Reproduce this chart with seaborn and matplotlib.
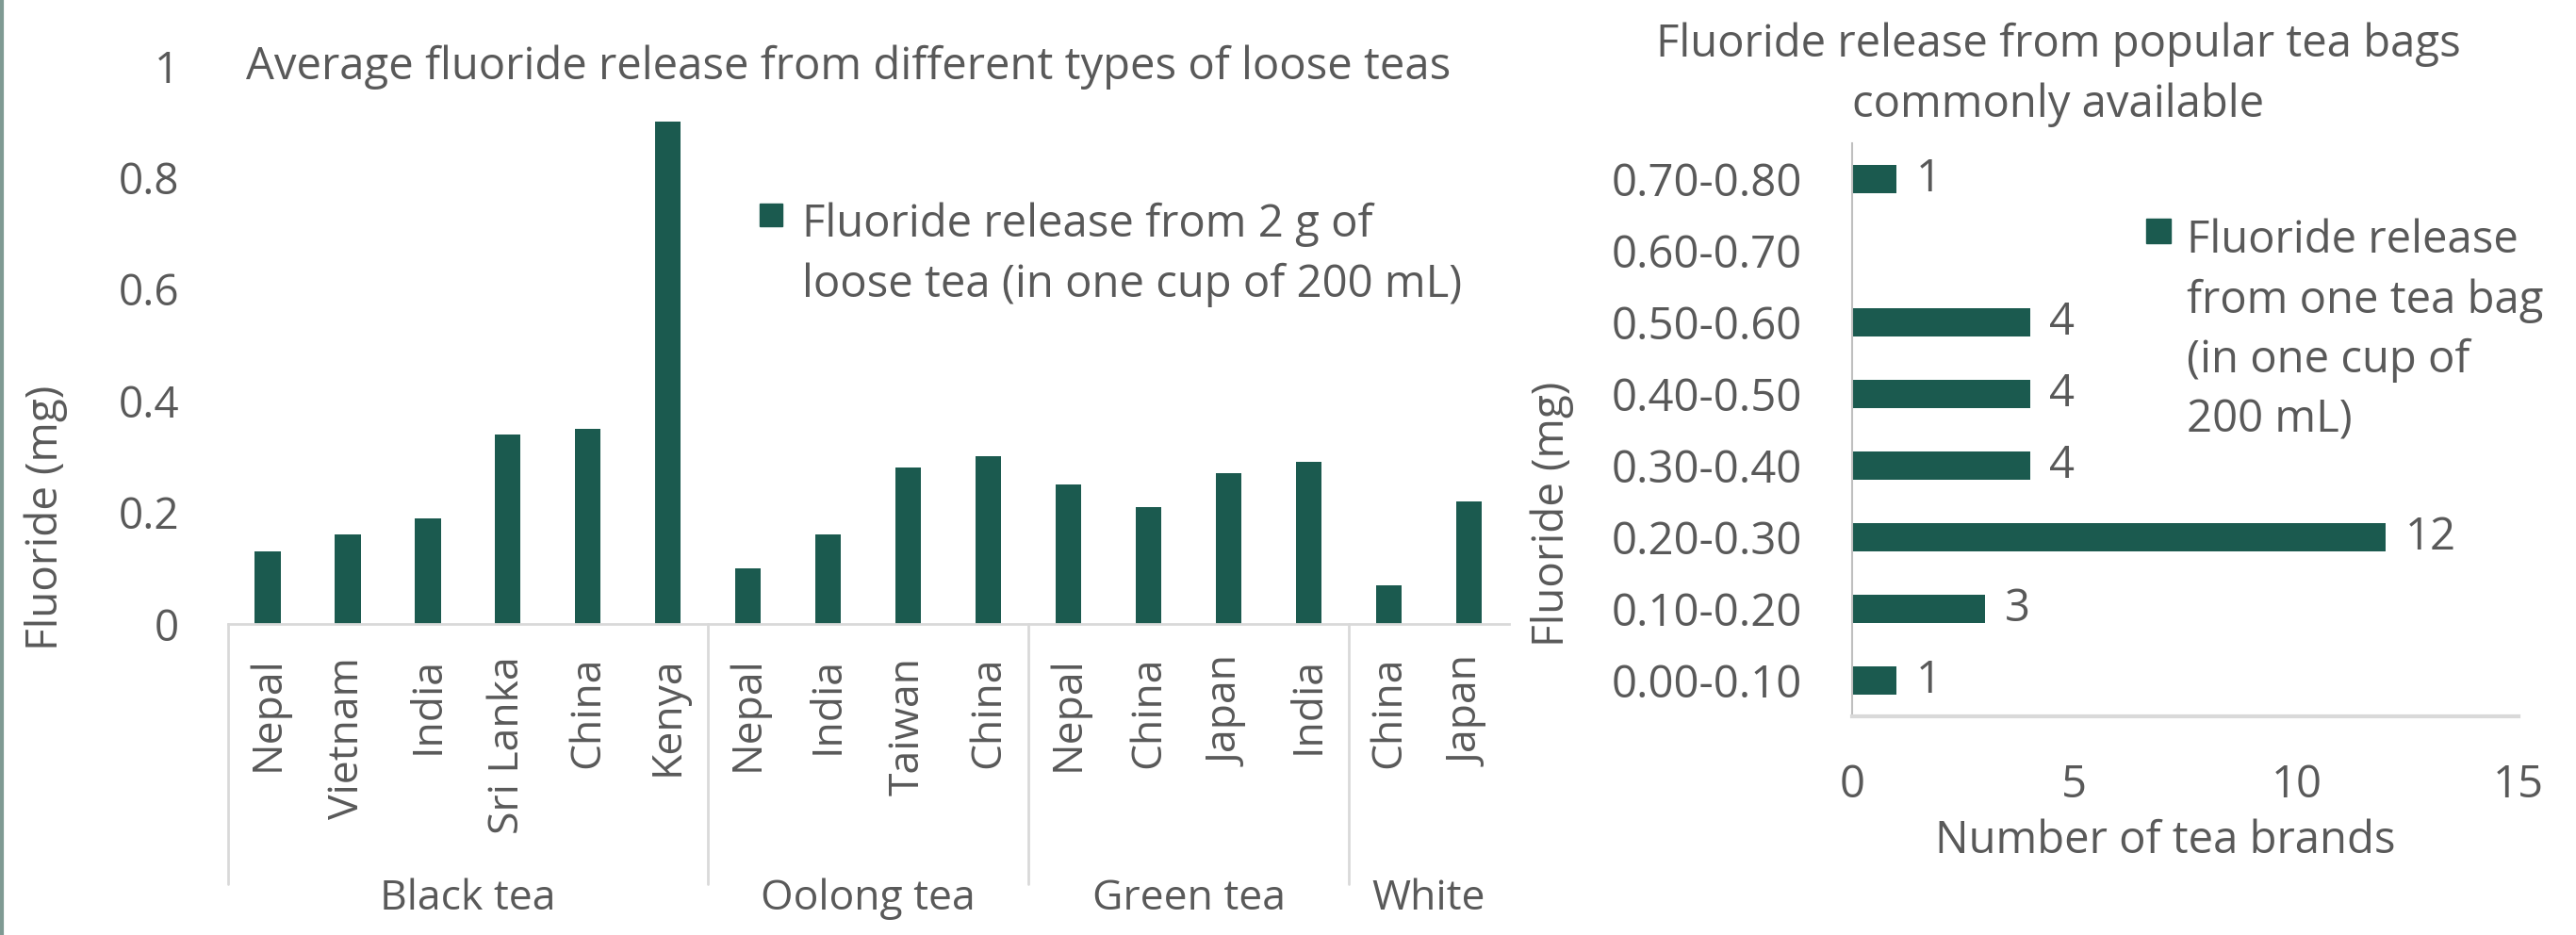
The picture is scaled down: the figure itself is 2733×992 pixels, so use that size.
import matplotlib
matplotlib.use("Agg")
import matplotlib.pyplot as plt
import matplotlib.transforms as mtransforms
from matplotlib.patches import Rectangle
from matplotlib.lines import Line2D
import pandas as pd
import seaborn as sns

# ---- Loose teas: average fluoride (mg) from 2 g brewed in 200 mL ----
tea_types = ["Black tea", "Oolong tea", "Green tea", "White"]
black_countries = ["Nepal", "Vietnam", "India", "Sri Lanka", "China", "Kenya"]
black_fluoride = [0.13, 0.16, 0.19, 0.34, 0.35, 0.90]
oolong_countries = ["Nepal", "India", "Taiwan", "China"]
oolong_fluoride = [0.10, 0.16, 0.28, 0.30]
green_countries = ["Nepal", "China", "Japan", "India"]
green_fluoride = [0.25, 0.21, 0.27, 0.29]
white_countries = ["China", "Japan"]
white_fluoride = [0.07, 0.22]

loose_yticks = [0, 0.2, 0.4, 0.6, 0.8, 1.0]
loose_ytick_labels = ["0", "0.2", "0.4", "0.6", "0.8", "1"]

# ---- Tea bags: number of brands in each fluoride range (mg) ----
bag_ranges = ["0.00-0.10", "0.10-0.20", "0.20-0.30", "0.30-0.40",
              "0.40-0.50", "0.50-0.60", "0.60-0.70", "0.70-0.80"]
bag_brands = [1, 3, 12, 4, 4, 4, 0, 1]
bag_xticks = [0, 5, 10, 15]

loose_title = "Average fluoride release from different types of loose teas"
loose_legend = "Fluoride release from 2 g of\nloose tea (in one cup of 200 mL)"
bag_title = "Fluoride release from popular tea bags\ncommonly available"
bag_legend = "Fluoride release\nfrom one tea bag\n(in one cup of\n200 mL)"
y_label = "Fluoride (mg)"
bag_x_label = "Number of tea brands"

# ---- style ----
TEAL = "#1b5a4f"
TEXT = "#595959"
AXIS_GREY = "#d9d9d9"
FS = 34          # horizontal text
FS_ROT = 32      # rotated category labels
FS_GROUP = 32    # tea-type labels
FS_YLAB = 33
LINE_STEP = 67   # px between baselines of wrapped text

sns.set_theme(style="white")
plt.rcParams["font.family"] = ["Open Sans", "DejaVu Sans"]
plt.rcParams["text.color"] = TEXT
plt.rcParams["axes.labelcolor"] = TEXT
plt.rcParams["xtick.color"] = TEXT
plt.rcParams["ytick.color"] = TEXT

W, H = 2733, 992
fig = plt.figure(figsize=(W / 100, H / 100), dpi=100)


def fx(px):
    return px / W


def fy(py):
    return 1 - py / H


def wrapped_text(x, first_baseline, text, ha="left"):
    """Multi-line text placed by the baseline of its first line."""
    n = text.count("\n")
    fig.text(fx(x), fy(first_baseline + n * LINE_STEP), text, ha=ha,
             va="baseline", fontsize=FS, linespacing=1.44,
             multialignment="center" if ha == "center" else "left")


# ---- data frames ----
groups = [
    (tea_types[0], black_countries, black_fluoride),
    (tea_types[1], oolong_countries, oolong_fluoride),
    (tea_types[2], green_countries, green_fluoride),
    (tea_types[3], white_countries, white_fluoride),
]
rows = []
for gname, countries, vals in groups:
    for c, v in zip(countries, vals):
        rows.append({"group": gname, "country": c, "key": f"{gname}:{c}", "fluoride": v})
loose = pd.DataFrame(rows)

bags = pd.DataFrame({"range": bag_ranges, "brands": bag_brands})

# ---- left panel: loose teas ----
ax1 = fig.add_axes([fx(241.5), fy(662), fx(1601) - fx(241.5), fy(70) - fy(662)])
sns.barplot(data=loose, x="key", y="fluoride", color=TEAL, saturation=1,
            width=0.32, errorbar=None, linewidth=0, ax=ax1)
ax1.set_xlim(-0.5, len(loose) - 0.5)
ax1.set_ylim(0, 1)
ax1.set_yticks(loose_yticks)
ax1.set_yticklabels(loose_ytick_labels, fontsize=FS - 1)
ax1.set_xticks(range(len(loose)))
ax1.set_xticklabels(loose["country"], rotation=90, fontsize=FS_ROT, va="top")
ax1.tick_params(axis="y", length=0, pad=37)
ax1.tick_params(axis="x", length=0, pad=25)
ax1.set_xlabel("")
ax1.set_ylabel("")
for side in ["left", "right", "top"]:
    ax1.spines[side].set_visible(False)
ax1.spines["bottom"].set_color(AXIS_GREY)
ax1.spines["bottom"].set_linewidth(2)

# group separators and tea-type labels under the country labels
blend = mtransforms.blended_transform_factory(ax1.transData, ax1.transAxes)
sep_bottom = (662 - 938) / 592
start = 0
bounds = [-0.5]
for gname, countries, _ in groups:
    n = len(countries)
    bounds.append(start + n - 0.5)
    ax1.text(start + (n - 1) / 2, (662 - 965) / 592, gname, transform=blend,
             ha="center", va="baseline", fontsize=FS_GROUP, color=TEXT)
    start += n
for b in bounds[:-1]:
    ax1.plot([b, b], [0, sep_bottom], transform=blend, color=AXIS_GREY,
             lw=2, clip_on=False)

fig.text(fx(900), fy(84), loose_title, ha="center", va="baseline", fontsize=FS)
fig.text(fx(49), fy(549), y_label, rotation=90, ha="center", va="center",
         fontsize=FS_YLAB)

# legend
fig.add_artist(Rectangle((fx(806), fy(240)), fx(24), fy(0) - fy(24),
                         transform=fig.transFigure, color=TEAL))
wrapped_text(851, 248, loose_legend)

# ---- right panel: tea bags ----
ax2 = fig.add_axes([fx(1965), fy(760), fx(2672) - fx(1965), fy(152) - fy(760)])
sns.barplot(data=bags, x="brands", y="range", order=bag_ranges[::-1], orient="h",
            color=TEAL, saturation=1, width=0.39, errorbar=None, linewidth=0, ax=ax2)
ax2.set_xlim(0, 15)
ax2.set_ylim(len(bag_ranges) - 0.5, -0.5)
ax2.set_xticks(bag_xticks)
ax2.set_xticklabels([str(t) for t in bag_xticks], fontsize=FS)
ax2.tick_params(axis="x", length=0, pad=36)
ax2.tick_params(axis="y", length=0, pad=38, labelsize=FS)
ax2.set_ylabel("")
ax2.set_xlabel(bag_x_label, fontsize=FS, va="baseline")
ax2.xaxis.set_label_coords((2297 - 1965) / 707, (760 - 905) / 608)
for side in ["right", "top"]:
    ax2.spines[side].set_visible(False)
ax2.spines["left"].set_color("#bfbfbf")
ax2.spines["left"].set_linewidth(1.5)
ax2.spines["bottom"].set_color(AXIS_GREY)
ax2.spines["bottom"].set_linewidth(3)

ordered = bags.set_index("range").loc[bag_ranges[::-1], "brands"].tolist()
ax2.bar_label(ax2.containers[0], labels=[str(v) if v else "" for v in ordered],
              padding=15, fontsize=FS, color=TEXT)

wrapped_text(2184, 57, bag_title, ha="center")
fig.text(fx(1647), fy(545), y_label, rotation=90, ha="center", va="center",
         fontsize=FS_YLAB)

fig.add_artist(Rectangle((fx(2277), fy(258)), fx(26), fy(0) - fy(26),
                         transform=fig.transFigure, color=TEAL))
wrapped_text(2320, 258, bag_legend)

# thin frame line along the left edge
fig.add_artist(Line2D([fx(1.5), fx(1.5)], [0, 1], transform=fig.transFigure,
                      color="#7f9a93", lw=3))

fig.savefig("out.png", dpi=100, facecolor="white")
